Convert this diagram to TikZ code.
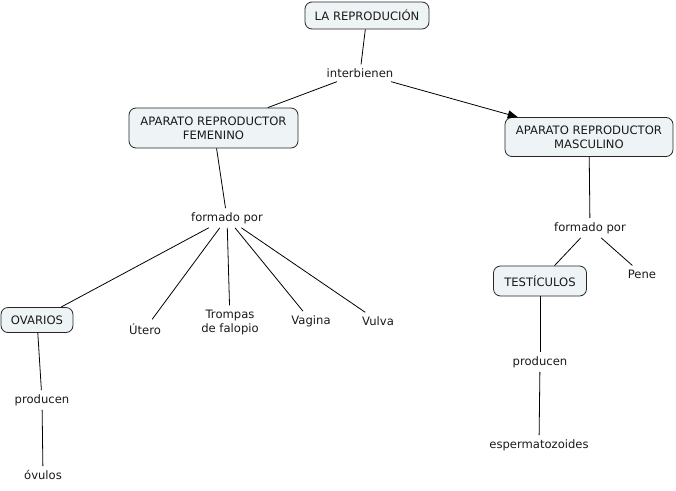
\documentclass[tikz,border=0pt]{standalone}
\usepackage{fontspec}
\setmainfont{DejaVu Sans}
\usetikzlibrary{arrows.meta}
\begin{document}
\begin{tikzpicture}[x=1pt,y=-1pt,
    concept/.style={draw=black!85,fill={rgb,255:red,238;green,244;blue,246},rounded corners=7pt,
      align=center,inner xsep=6pt,inner ysep=5pt,line width=0.8pt,font=\fontsize{11.6}{14}\selectfont},
    link/.style={align=center,inner sep=4pt,font=\fontsize{11.6}{14}\selectfont},
    every node/.style={text=black!90}]
  \useasboundingbox (0,0) rectangle (676,490);
  \draw
    (367,15.5) node[concept,minimum width=124pt,minimum height=27pt] (repro){LA REPRODUCIÓN}
    (360,73) node[link] (inter){interbienen}
    (213.5,128) node[concept,minimum width=169pt,minimum height=40pt] (fem){APARATO REPRODUCTOR\\FEMENINO}
    (589,137) node[concept,minimum width=168pt,minimum height=39pt] (masc){APARATO REPRODUCTOR\\MASCULINO}
    (227,218) node[link] (formf){formado por}
    (37,320) node[concept,minimum width=72pt,minimum height=25pt] (ovarios){OVARIOS}
    (145,329) node[link] (utero){Útero}
    (230,322) node[link] (trompas){Trompas\\de falopio}
    (311,321) node[link] (vagina){Vagina}
    (378,321) node[link] (vulva){Vulva}
    (42,400) node[link] (prodf){producen}
    (43,475) node[link] (ovulos){óvulos}
    (590,228) node[link] (formm){formado por}
    (540,281) node[concept,minimum width=93pt,minimum height=30pt] (testi){TESTÍCULOS}
    (642,274) node[link] (pene){Pene}
    (540,362) node[link] (prodm){producen}
    (539,445) node[link] (esperma){espermatozoides};
  \begin{scope}[-,line width=0.8pt]
    \draw (repro) to (inter);
    \draw (inter) to (fem);
    \draw[-{Triangle[length=10pt,width=8pt]}] (inter) to (masc);
    \draw (fem) to (formf);
    \draw (formf) to (ovarios);
    \draw (formf) to (utero);
    \draw (formf) to (trompas);
    \draw (formf) to (vagina);
    \draw (formf) to (vulva);
    \draw (ovarios) to (prodf);
    \draw (prodf) to (ovulos);
    \draw (masc) to (formm);
    \draw (formm) to (testi);
    \draw (formm) to (pene);
    \draw (testi) to (prodm);
    \draw (prodm) to (esperma);
  \end{scope}
\end{tikzpicture}
\end{document}
